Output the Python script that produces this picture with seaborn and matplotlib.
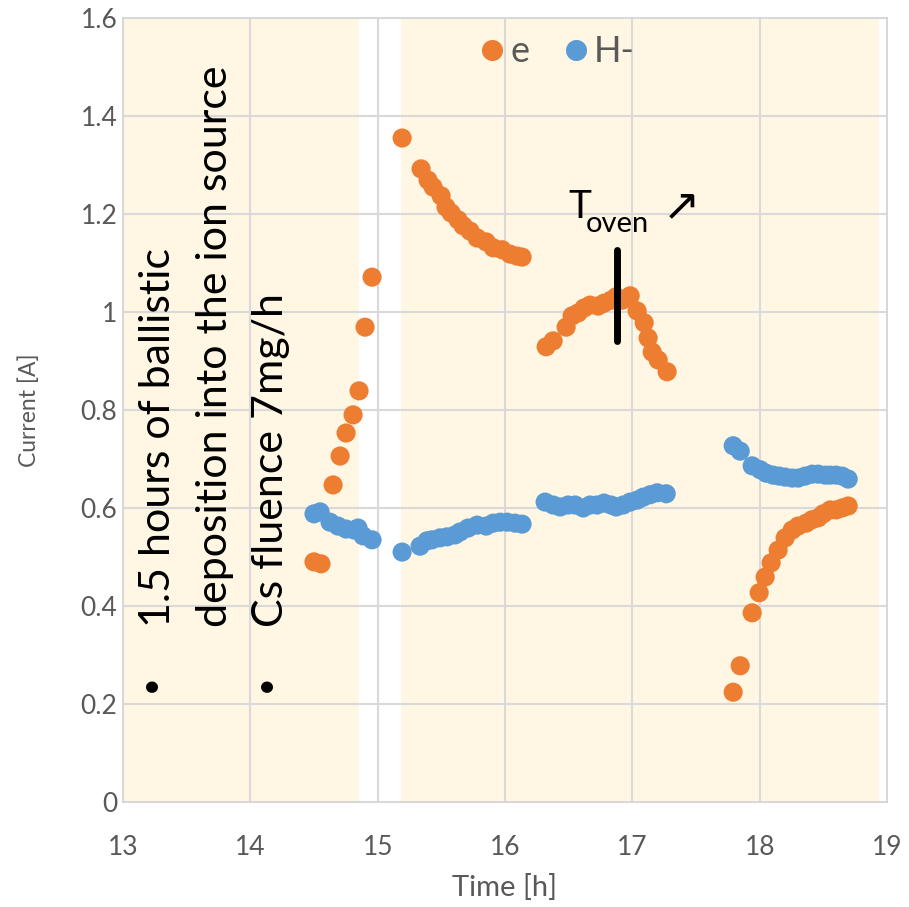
import numpy as np
import pandas as pd
import matplotlib
matplotlib.use("Agg")
import matplotlib.pyplot as plt
import seaborn as sns

# ---- data ----
e_time = [14.500, 14.555, 14.650, 14.705, 14.752, 14.807, 14.854, 14.901, 14.956,
          15.192, 15.341, 15.396, 15.435, 15.498, 15.537, 15.577, 15.632, 15.671,
          15.726, 15.781, 15.852, 15.907, 15.977, 16.040, 16.095, 16.134,
          16.323, 16.378, 16.480, 16.527, 16.574, 16.621, 16.668, 16.731, 16.778,
          16.833, 16.873, 16.920, 16.983, 17.038, 17.093, 17.124, 17.156, 17.203, 17.273,
          17.792, 17.847, 17.941, 17.996, 18.043, 18.090, 18.145, 18.200, 18.255,
          18.302, 18.365, 18.412, 18.460, 18.499, 18.554, 18.601, 18.648, 18.695]
e_current = [0.490, 0.486, 0.647, 0.706, 0.753, 0.790, 0.839, 0.969, 1.071,
             1.355, 1.292, 1.269, 1.255, 1.237, 1.214, 1.202, 1.188, 1.176,
             1.165, 1.151, 1.143, 1.131, 1.127, 1.118, 1.114, 1.112,
             0.929, 0.941, 0.969, 0.992, 0.998, 1.008, 1.014, 1.012, 1.018,
             1.024, 1.031, 1.024, 1.033, 1.002, 0.978, 0.947, 0.918, 0.902, 0.878,
             0.224, 0.278, 0.386, 0.427, 0.459, 0.488, 0.514, 0.539, 0.555,
             0.563, 0.569, 0.576, 0.580, 0.588, 0.596, 0.596, 0.600, 0.604]

h_time = [14.500, 14.548, 14.626, 14.689, 14.752, 14.815, 14.846, 14.885, 14.956,
          15.192, 15.333, 15.388, 15.427, 15.490, 15.545, 15.608, 15.647, 15.710,
          15.781, 15.852, 15.907, 15.962, 16.017, 16.079, 16.134,
          16.315, 16.378, 16.433, 16.496, 16.551, 16.614, 16.668, 16.723, 16.778,
          16.833, 16.873, 16.928, 16.983, 17.038, 17.085, 17.140, 17.195, 17.266,
          17.792, 17.847, 17.941, 18.004, 18.051, 18.106, 18.153, 18.200, 18.255,
          18.302, 18.357, 18.412, 18.460, 18.515, 18.554, 18.601, 18.648, 18.695]
h_current = [0.588, 0.592, 0.571, 0.563, 0.557, 0.555, 0.559, 0.543, 0.535,
             0.510, 0.522, 0.533, 0.535, 0.539, 0.541, 0.545, 0.551, 0.559,
             0.565, 0.563, 0.569, 0.571, 0.571, 0.569, 0.567,
             0.612, 0.606, 0.602, 0.606, 0.606, 0.600, 0.606, 0.606, 0.610,
             0.606, 0.602, 0.606, 0.612, 0.616, 0.622, 0.627, 0.631, 0.629,
             0.727, 0.716, 0.686, 0.678, 0.671, 0.667, 0.665, 0.663, 0.661,
             0.661, 0.665, 0.669, 0.669, 0.667, 0.667, 0.667, 0.665, 0.659]

series_names = ["e", "H-"]
series_colors = ["#ED7D31", "#5B9BD5"]
shade_spans = [(12.98, 14.85), (15.18, 18.94)]
x_ticks = [13, 14, 15, 16, 17, 18, 19]
y_ticks = [0, 0.2, 0.4, 0.6, 0.8, 1.0, 1.2, 1.4, 1.6]
y_tick_labels = ["0", "0.2", "0.4", "0.6", "0.8", "1", "1.2", "1.4", "1.6"]
note_lines = ["1.5 hours of ballistic", "deposition into the ion source", "Cs fluence 7mg/h"]

df = pd.DataFrame({
    "Time [h]": e_time + h_time,
    "Current [A]": e_current + h_current,
    "series": ["e"] * len(e_time) + ["H-"] * len(h_time),
})

sns.set_theme(style="white")
plt.rcParams["font.family"] = ["Lato", "DejaVu Sans"]

fig = plt.figure(figsize=(9.09, 9.07), dpi=100)
ax = fig.add_axes([0.1353, 0.1158, 0.8405, 0.8644])

for a, b in shade_spans:
    ax.axvspan(a, b, color="#FFF6E3", zorder=0.1, lw=0)

sns.scatterplot(data=df, x="Time [h]", y="Current [A]", hue="series",
                hue_order=series_names, palette=dict(zip(series_names, series_colors)),
                s=190, linewidth=0, edgecolor="none", alpha=1, ax=ax, zorder=3)

ax.set_xlim(13, 19)
ax.set_ylim(0, 1.6)
ax.set_xticks(x_ticks)
ax.set_yticks(y_ticks)
ax.set_yticklabels(y_tick_labels)
ax.grid(True, color="#D9D9D9", lw=1.5, zorder=0.5)
ax.set_axisbelow(False)
for l in ax.get_xgridlines() + ax.get_ygridlines():
    l.set_zorder(0.5)
for sp in ax.spines.values():
    sp.set_color("#D0D0D0")
    sp.set_linewidth(1.2)
ax.tick_params(axis="both", labelsize=19, colors="#595959", length=0)
ax.tick_params(axis="x", pad=24)
ax.tick_params(axis="y", pad=4)
ax.set_xlabel("Time [h]", fontsize=21, color="#595959", labelpad=10)
ax.set_ylabel("Current [A]", fontsize=16.5, color="#595959", labelpad=29)

handles, labels = ax.get_legend_handles_labels()
ax.legend(handles, labels, loc="center", bbox_to_anchor=(0.566, 0.957), ncol=2,
          frameon=False, fontsize=26, markerscale=1.1, handletextpad=0.05,
          columnspacing=0.85, labelcolor="#595959", handlelength=0.9)

# oven temperature marker
ax.plot([16.88, 16.88], [0.941, 1.127], color="black", lw=5, zorder=4)
ax.text(16.59, 1.192, "T", fontsize=28, color="black", ha="center", va="baseline")
ax.text(16.635, 1.163, "oven", fontsize=21, color="black", ha="left", va="baseline")
ax.text(17.24, 1.19, "\u2197", fontsize=32, color="black", ha="left", va="baseline",
        family="DejaVu Sans")

# rotated notes
note_x = [13.37, 13.817, 14.257]
for xx, line in zip(note_x, note_lines):
    ax.text(xx, 0.357, line, rotation=90, rotation_mode="anchor", ha="left",
            va="baseline", fontsize=31, color="black", zorder=5)
for xx in [13.21, 14.115]:
    ax.text(xx, 0.243, "\u2022", rotation=90, ha="center", va="center",
            fontsize=22, color="black", zorder=5)

fig.savefig("out.png", dpi=100)
